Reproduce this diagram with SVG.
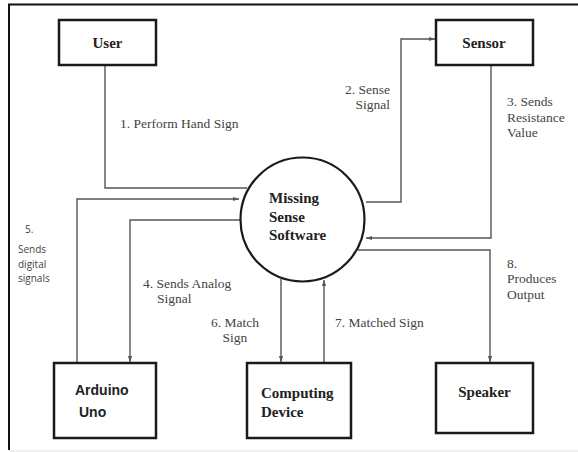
<svg xmlns="http://www.w3.org/2000/svg" width="578" height="452" viewBox="0 0 578 452">
<style>
.box{fill:#fff;stroke:#1a1a1a;stroke-width:2.5}
.ln{fill:none;stroke:#555;stroke-width:1.4}
.nb{font-family:"Liberation Serif",serif;font-weight:bold;font-size:15px;fill:#222}
.ns{font-family:"Liberation Sans",Arial,sans-serif;font-weight:bold;font-size:14px;fill:#222}
.lb{font-family:"Liberation Serif",serif;font-size:13.5px;fill:#444}
.sm{font-family:"Open Sans","Liberation Sans",sans-serif;font-size:10px;fill:#444}
</style>
<defs>
<marker id="ah" viewBox="0 0 10 10" refX="10" refY="5" markerWidth="6" markerHeight="6" orient="auto" markerUnits="userSpaceOnUse">
<path d="M0,1.5 L10,5 L0,8.5 z" fill="#555"/>
</marker>
</defs>
<rect x="0" y="0" width="578" height="452" fill="#fff"/>
<g id="frame">
<line x1="8" y1="4.5" x2="578" y2="4.5" stroke="#111" stroke-width="2"/>
<line x1="9" y1="4" x2="9" y2="450" stroke="#111" stroke-width="2"/>
<line x1="9" y1="451" x2="578" y2="451" stroke="#ddd" stroke-width="1"/>
</g>
<g id="connectors">
<path class="ln" d="M105,65 V188 H247"/>
<path class="ln" d="M366,202 H401 V39 H435" marker-end="url(#ah)"/>
<path class="ln" d="M491,65 V238 H366" marker-end="url(#ah)"/>
<path class="ln" d="M240,220 H130 V362" marker-end="url(#ah)"/>
<path class="ln" d="M77,363 V199 H239" marker-end="url(#ah)"/>
<path class="ln" d="M281,279 V362" marker-end="url(#ah)"/>
<path class="ln" d="M324,363 V280" marker-end="url(#ah)"/>
<path class="ln" d="M358,250 H490 V362" marker-end="url(#ah)"/>
</g>
<g id="labels">
<text class="lb" x="120" y="128">1. Perform Hand Sign</text>
<text class="lb" x="390" y="94" text-anchor="end">2. Sense</text>
<text class="lb" x="390" y="109" text-anchor="end">Signal</text>
<text class="lb" x="507" y="106">3. Sends</text>
<text class="lb" x="507" y="122">Resistance</text>
<text class="lb" x="507" y="137">Value</text>
<text class="sm" x="25" y="233">5.</text>
<text class="sm" x="18" y="253">Sends</text>
<text class="sm" x="18" y="268">digital</text>
<text class="sm" x="18" y="282">signals</text>
<text class="lb" x="143" y="288">4. Sends Analog</text>
<text class="lb" x="157" y="303">Signal</text>
<text class="lb" x="235" y="327" text-anchor="middle">6. Match</text>
<text class="lb" x="235" y="342" text-anchor="middle">Sign</text>
<text class="lb" x="335" y="327">7. Matched Sign</text>
<text class="lb" x="507" y="268">8.</text>
<text class="lb" x="507" y="283">Produces</text>
<text class="lb" x="507" y="299">Output</text>
</g>
<g id="user">
<rect class="box" x="59" y="20" width="97" height="45"/>
<text class="nb" x="107.5" y="48" text-anchor="middle">User</text>
</g>
<g id="sensor">
<rect class="box" x="436" y="20" width="97" height="45"/>
<text class="nb" x="484" y="48" text-anchor="middle">Sensor</text>
</g>
<g id="software">
<circle cx="302.5" cy="219.5" r="62" fill="#fff" stroke="#1a1a1a" stroke-width="2.2"/>
<text class="nb" x="269" y="203">Missing</text>
<text class="nb" x="269" y="222">Sense</text>
<text class="nb" x="269" y="240">Software</text>
</g>
<g id="arduino">
<rect class="box" x="54" y="363" width="102" height="75"/>
<text class="ns" x="75" y="395">Arduino</text>
<text class="ns" x="79" y="417">Uno</text>
</g>
<g id="computing">
<rect class="box" x="247" y="363" width="104" height="75"/>
<text class="nb" x="261" y="398">Computing</text>
<text class="nb" x="261" y="417">Device</text>
</g>
<g id="speaker">
<rect class="box" x="436" y="363" width="97" height="70"/>
<text class="nb" x="484.5" y="397" text-anchor="middle">Speaker</text>
</g>
</svg>
